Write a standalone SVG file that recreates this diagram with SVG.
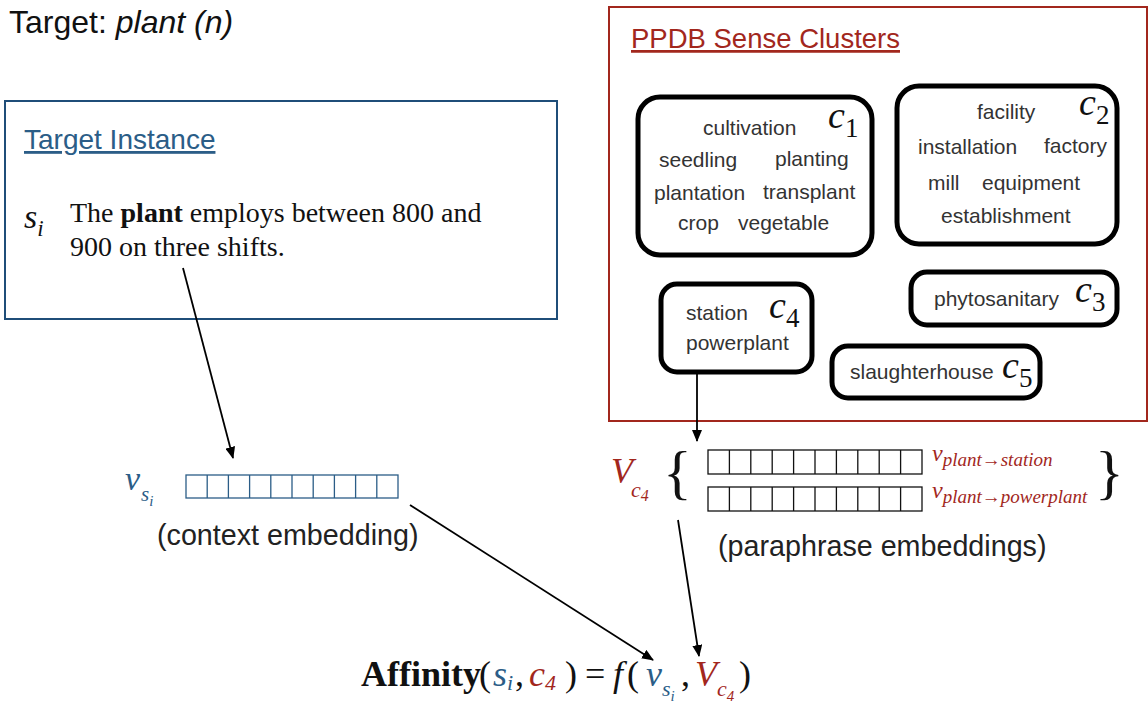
<svg xmlns="http://www.w3.org/2000/svg" width="1148" height="703" viewBox="0 0 1148 703">
<defs>
<marker id="arr" viewBox="0 0 12 10" refX="11" refY="5" markerWidth="12" markerHeight="10" markerUnits="userSpaceOnUse" orient="auto">
<path d="M0,0 L12,5 L0,10 Z" fill="#000"/>
</marker>
</defs>
<style>
.sans{font-family:"Liberation Sans",Arial,sans-serif;}
.serif{font-family:"Liberation Serif","Times New Roman",serif;}
.word{font-family:"Liberation Sans",Arial,sans-serif;font-size:21px;fill:#333;}
.clab{font-family:"Liberation Serif","Times New Roman",serif;font-style:italic;font-size:38px;fill:#111;}
.csub{font-family:"Liberation Serif","Times New Roman",serif;font-size:27px;fill:#111;}
.cbox{fill:#fff;stroke:#000;stroke-width:5;}
.bcell{fill:#fff;stroke:#2b5d87;stroke-width:1.3;}
.kcell{fill:#fff;stroke:#111;stroke-width:1.3;}
.blue{fill:#2b5d87;}
.red{fill:#a2271d;}
.conn{stroke:#000;stroke-width:1.8;fill:none;marker-end:url(#arr);}
</style>
<rect width="1148" height="703" fill="#fff"/>

<text x="9" y="33" class="sans" font-size="32" fill="#111">Target: <tspan font-style="italic">plant (n)</tspan></text>

<g id="target-instance">
<rect x="5" y="101" width="552" height="218" fill="none" stroke="#1f4e79" stroke-width="2"/>
<text x="24" y="149" class="sans blue" font-size="28" text-decoration="underline">Target Instance</text>
<text x="24" y="228" class="serif" font-style="italic" font-size="34" fill="#111">s<tspan font-size="23" dy="8">i</tspan></text>
<text x="70" y="222" class="serif" font-size="28" fill="#111">The <tspan font-weight="bold">plant</tspan> employs between 800 and</text>
<text x="70" y="256" class="serif" font-size="28" fill="#111">900 on three shifts.</text>
</g>

<g id="ppdb-clusters">
<rect x="609" y="7" width="538" height="414" fill="none" stroke="#a2271d" stroke-width="2"/>
<text x="631" y="48" class="sans red" font-size="27.5" text-decoration="underline">PPDB Sense Clusters</text>
</g>

<g id="c1">
<rect x="638" y="97" width="234" height="158" rx="22" class="cbox"/>
<text x="703" y="135" class="word">cultivation</text>
<text x="659" y="167" class="word">seedling</text>
<text x="775" y="166" class="word">planting</text>
<text x="654" y="200" class="word">plantation</text>
<text x="763" y="199" class="word">transplant</text>
<text x="678" y="230" class="word">crop</text>
<text x="738" y="230" class="word">vegetable</text>
<text x="828" y="128" class="clab">c<tspan class="csub" font-style="normal" dy="9">1</tspan></text>
</g>

<g id="c2">
<rect x="897" y="86" width="220" height="158" rx="22" class="cbox"/>
<text x="977" y="119" class="word">facility</text>
<text x="918" y="154" class="word">installation</text>
<text x="1044" y="153" class="word">factory</text>
<text x="928" y="190" class="word">mill</text>
<text x="982" y="190" class="word">equipment</text>
<text x="941" y="223" class="word">establishment</text>
<text x="1079" y="115" class="clab">c<tspan class="csub" font-style="normal" dy="9">2</tspan></text>
</g>

<g id="c3">
<rect x="911" y="272" width="206" height="53" rx="16" class="cbox"/>
<text x="934" y="306" class="word">phytosanitary</text>
<text x="1075" y="302" class="clab">c<tspan class="csub" font-style="normal" dy="9">3</tspan></text>
</g>

<g id="c4">
<rect x="661" y="284" width="151" height="88" rx="16" class="cbox"/>
<text x="686" y="320" class="word">station</text>
<text x="686" y="350" class="word">powerplant</text>
<text x="769" y="318" class="clab">c<tspan class="csub" font-style="normal" dy="9">4</tspan></text>
</g>

<g id="c5">
<rect x="832" y="346" width="208" height="52" rx="16" class="cbox"/>
<text x="850" y="379" class="word">slaughterhouse</text>
<text x="1002" y="378" class="clab">c<tspan class="csub" font-style="normal" dy="9">5</tspan></text>
</g>

<g id="context-embedding">
<text x="125" y="490" class="serif blue" font-style="italic" font-size="34">v</text>
<text x="141" y="501" class="serif blue" font-style="italic" font-size="21">s<tspan font-size="15" dy="5">i</tspan></text>
<rect x="186" y="475" width="212" height="23" class="bcell"/>
<path d="M207.2,475V498M228.4,475V498M249.6,475V498M270.8,475V498M292,475V498M313.2,475V498M334.4,475V498M355.6,475V498M376.8,475V498" stroke="#2b5d87" stroke-width="1.3"/>
<text x="157" y="545" class="sans" font-size="28.7" fill="#222">(context embedding)</text>
</g>

<g id="paraphrase-embeddings">
<text x="611" y="483" class="serif red" font-style="italic" font-size="36">V</text>
<text x="631" y="497" class="serif red" font-style="italic" font-size="22">c<tspan font-size="16" dy="4">4</tspan></text>
<text x="663" y="492" class="serif" font-size="60" fill="#111">{</text>
<text x="1095" y="492" class="serif" font-size="60" fill="#111">}</text>
<rect x="708" y="450" width="214" height="24" class="kcell"/>
<path d="M729.4,450V474M750.8,450V474M772.2,450V474M793.6,450V474M815,450V474M836.4,450V474M857.8,450V474M879.2,450V474M900.6,450V474" stroke="#111" stroke-width="1.3"/>
<rect x="708" y="487" width="214" height="24" class="kcell"/>
<path d="M729.4,487V511M750.8,487V511M772.2,487V511M793.6,487V511M815,487V511M836.4,487V511M857.8,487V511M879.2,487V511M900.6,487V511" stroke="#111" stroke-width="1.3"/>
<text x="932" y="461" class="serif red" font-style="italic" font-size="24">v<tspan font-size="19" dy="5">plant→station</tspan></text>
<text x="932" y="498" class="serif red" font-style="italic" font-size="24">v<tspan font-size="19" dy="5">plant→powerplant</tspan></text>
<text x="718" y="556" class="sans" font-size="28.7" fill="#222">(paraphrase embeddings)</text>
</g>

<g id="affinity-formula" class="serif" font-size="36" fill="#111">
<text x="361" y="686" font-weight="bold">Affinity</text>
<text x="479" y="686">(</text>
<text x="493" y="686" class="blue" font-style="italic">s<tspan font-size="22" dy="4">i</tspan></text>
<text x="515" y="686">,</text>
<text x="529" y="686" class="red" font-style="italic">c<tspan font-size="22" dy="4">4</tspan></text>
<text x="565" y="686">)</text>
<text x="585" y="686">=</text>
<text x="613" y="686" font-style="italic">f</text>
<text x="627" y="686">(</text>
<text x="646" y="686" class="blue" font-style="italic">v</text>
<text x="662" y="696" class="blue" font-style="italic" font-size="22">s<tspan font-size="15" dy="5">i</tspan></text>
<text x="681" y="686">,</text>
<text x="695" y="686" class="red" font-style="italic">V</text>
<text x="717" y="696" class="red" font-style="italic" font-size="22">c<tspan font-size="15" dy="5">4</tspan></text>
<text x="739" y="686">)</text>
</g>

<g id="connectors">
<line x1="183" y1="268" x2="233" y2="458" class="conn"/>
<line x1="697" y1="372" x2="697" y2="441" class="conn"/>
<line x1="410" y1="505" x2="653" y2="660" class="conn"/>
<line x1="678" y1="520" x2="699" y2="656" class="conn"/>
</g>
</svg>
